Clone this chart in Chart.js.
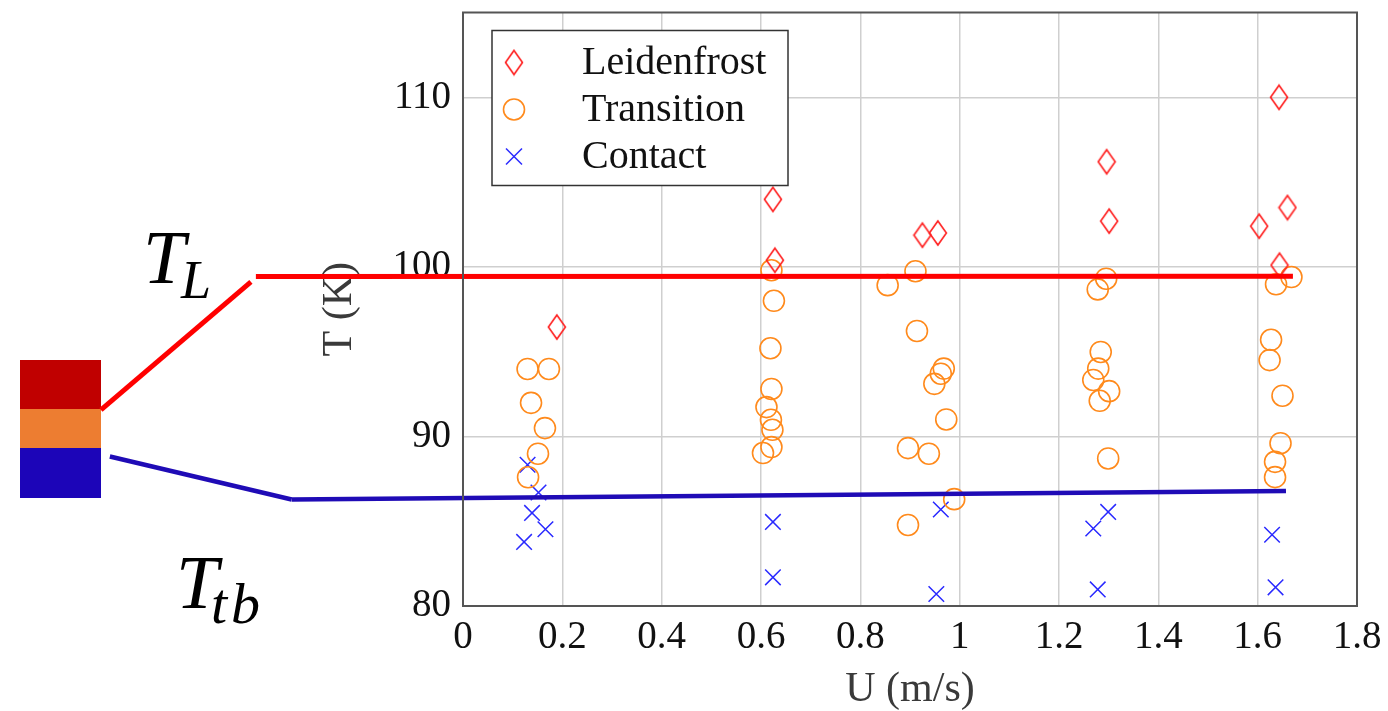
<!DOCTYPE html>
<html>
<head>
<meta charset="utf-8">
<title>Leidenfrost / Transition / Contact</title>
<script src="https://cdn.jsdelivr.net/npm/chart.js@4.4.1/dist/chart.umd.min.js"></script>
<style>
  html, body { margin: 0; padding: 0; background: #fff; }
  #wrap { position: relative; width: 1388px; height: 711px; overflow: hidden; }
  #regimeChart { position: absolute; left: 0; top: 0; }
  .swatch { position: absolute; left: 20px; width: 81px; }
</style>
</head>
<body>
<div id="wrap">
  <div class="swatch" style="top:360px; height:49px; background:#c00000;"></div>
  <div class="swatch" style="top:409px; height:39px; background:#ed7d31;"></div>
  <div class="swatch" style="top:448px; height:50px; background:#1c05b8;"></div>
  <canvas id="regimeChart" width="1388" height="711"></canvas>
</div>
<script>
// --- DATA ---
const seriesNames = ['Leidenfrost', 'Transition', 'Contact'];

const leidenU = [0.189, 0.624, 0.628, 0.925, 0.956, 1.296, 1.301, 1.603, 1.643, 1.660, 1.644];
const leidenT = [96.45, 103.98, 100.39, 101.87, 102.0, 106.2, 102.7, 102.4, 110.0, 103.5, 100.1];

const transU = [0.130, 0.173, 0.137, 0.165, 0.151, 0.131,
                0.621, 0.626, 0.619, 0.621, 0.611, 0.620, 0.623, 0.621, 0.604,
                0.911, 0.855, 0.914, 0.968, 0.962, 0.949, 0.973, 0.896, 0.938, 0.989, 0.896,
                1.295, 1.278, 1.284, 1.279, 1.269, 1.301, 1.282, 1.299,
                1.668, 1.637, 1.627, 1.624, 1.650, 1.646, 1.635, 1.635];
const transT = [93.98, 93.98, 91.98, 90.49, 88.98, 87.59,
                99.80, 98.0, 95.2, 92.8, 91.73, 90.98, 90.39, 89.37, 89.02,
                99.74, 98.92, 96.22, 94.0, 93.7, 93.1, 91.0, 89.31, 88.98, 86.3, 84.78,
                99.3, 98.67, 94.98, 94.0, 93.33, 92.67, 92.1, 88.7,
                99.4, 98.97, 95.7, 94.5, 92.4, 89.6, 88.5, 87.6];

const contactU = [0.130, 0.152, 0.139, 0.166, 0.123, 0.624, 0.624, 0.962, 0.953,
                  1.299, 1.269, 1.278, 1.629, 1.636];
const contactT = [88.33, 86.69, 85.49, 84.53, 83.78, 84.96, 81.69, 85.69, 80.71,
                  85.55, 84.57, 80.98, 84.2, 81.1];

// annotation lines T_L and T_tb (data units, left parts run past the y axis)
const tlDiagU = [-0.427, -0.729];
const tlDiagT = [99.12, 91.57];
const tlFlatU = [-0.417, 1.671];
const tlFlatT = [99.43, 99.45];
const tbDiagU = [-0.345, -0.711];
const tbDiagT = [86.28, 88.82];
const tbFlatU = [-0.345, 1.657];
const tbFlatT = [86.28, 86.78];

// axes
const uTicks = [0, 0.2, 0.4, 0.6, 0.8, 1, 1.2, 1.4, 1.6, 1.8];
const uTickLabels = ['0', '0.2', '0.4', '0.6', '0.8', '1', '1.2', '1.4', '1.6', '1.8'];
const tTicks = [80, 90, 100, 110];
const tTickLabels = ['80', '90', '100', '110'];

const SERIF = '"Liberation Serif", "DejaVu Serif", serif';
const RED = '#ff1f1f', ORANGE = '#ff8a1c', BLUE = '#2a2aff';

function toPoints(us, ts) {
    return us.map((u, i) => ({ x: u, y: ts[i] }));
}

// tall pgfplots-like diamond as an image point style
function makeDiamond() {
    const c = document.createElement('canvas');
    c.width = 20; c.height = 28;
    const g = c.getContext('2d');
    g.strokeStyle = RED;
    g.lineWidth = 1.6;
    g.beginPath();
    g.moveTo(10, 2); g.lineTo(18.5, 14); g.lineTo(10, 26); g.lineTo(1.5, 14);
    g.closePath();
    g.stroke();
    return c;
}
const diamondImg = makeDiamond();

function annotationLine(us, ts, color, width) {
    return {
        type: 'line', data: toPoints(us, ts), borderColor: color, borderWidth: width,
        pointRadius: 0, showLine: true, fill: false, clip: false, order: 0, borderCapStyle: 'butt'
    };
}

// --- PLUGINS: frame, legend box, T_L / T_tb labels ---
const framePlugin = {
    id: 'frame',
    afterDatasetsDraw(chart) {
        const { ctx, chartArea: a } = chart;
        ctx.save();
        ctx.strokeStyle = '#555';
        ctx.lineWidth = 2;
        ctx.strokeRect(a.left, a.top, a.right - a.left, a.bottom - a.top);
        ctx.restore();
    }
};

const legendBoxPlugin = {
    id: 'legendBox',
    afterDraw(chart) {
        const { ctx, chartArea: a } = chart;
        const bx = a.left + 29, by = a.top + 18, bw = 296, bh = 155;
        ctx.save();
        ctx.fillStyle = '#fff';
        ctx.fillRect(bx, by, bw, bh);
        ctx.strokeStyle = '#333';
        ctx.lineWidth = 1.5;
        ctx.strokeRect(bx, by, bw, bh);

        const mx = a.left + 51, tx = a.left + 119;
        const rows = [a.top + 50, a.top + 97, a.top + 144];

        ctx.drawImage(diamondImg, mx - diamondImg.width / 2, rows[0] - diamondImg.height / 2);

        ctx.strokeStyle = ORANGE; ctx.lineWidth = 1.6;
        ctx.beginPath(); ctx.arc(mx, rows[1], 10.5, 0, Math.PI * 2); ctx.stroke();

        ctx.strokeStyle = BLUE; ctx.lineWidth = 1.5;
        ctx.beginPath();
        ctx.moveTo(mx - 8, rows[2] - 8); ctx.lineTo(mx + 8, rows[2] + 8);
        ctx.moveTo(mx + 8, rows[2] - 8); ctx.lineTo(mx - 8, rows[2] + 8);
        ctx.stroke();

        ctx.fillStyle = '#111';
        ctx.font = '40px ' + SERIF;
        ctx.textBaseline = 'alphabetic';
        seriesNames.forEach((name, i) => ctx.fillText(name, tx, rows[i] + 11));

        // T_L and T_tb labels
        ctx.fillStyle = '#000';
        ctx.font = 'italic 76px ' + SERIF;
        ctx.fillText('T', 143, 283);
        ctx.fillText('T', 176, 608);
        ctx.font = 'italic 54px ' + SERIF;
        ctx.fillText('L', 181, 298);
        ctx.font = 'italic 58px ' + SERIF;
        ctx.fillText('t', 211, 623);
        ctx.fillText('b', 231, 623);
        ctx.restore();
    }
};

// --- CHART ---
const ctx = document.getElementById('regimeChart').getContext('2d');
const regimeChart = new Chart(ctx, {
    type: 'scatter',
    data: {
        datasets: [
            annotationLine(tlDiagU, tlDiagT, '#ff0000', 5),
            annotationLine(tlFlatU, tlFlatT, '#ff0000', 5),
            annotationLine(tbDiagU, tbDiagT, '#1f0bb6', 4.5),
            annotationLine(tbFlatU, tbFlatT, '#1f0bb6', 4.5),
            { label: seriesNames[0], data: toPoints(leidenU, leidenT), pointStyle: diamondImg,
              backgroundColor: 'rgba(0,0,0,0)', borderColor: RED, order: 1 },
            { label: seriesNames[1], data: toPoints(transU, transT), pointStyle: 'circle', pointRadius: 10.5,
              borderWidth: 1.6, backgroundColor: 'rgba(0,0,0,0)', borderColor: ORANGE, order: 1 },
            { label: seriesNames[2], data: toPoints(contactU, contactT), pointStyle: 'crossRot', pointRadius: 11,
              borderWidth: 1.5, backgroundColor: 'rgba(0,0,0,0)', borderColor: BLUE, order: 1 }
        ]
    },
    options: {
        responsive: false,
        animation: false,
        events: [],
        layout: { padding: { left: 312, top: 10, right: 31, bottom: 0 } },
        plugins: { legend: { display: false }, tooltip: { enabled: false } },
        scales: {
            x: {
                type: 'linear', min: 0, max: 1.8,
                afterBuildTicks: s => { s.ticks = uTicks.map(v => ({ value: v })); },
                afterFit: s => { s.height = 105; s.paddingLeft = 0; s.paddingRight = 0; },
                grid: { color: '#cfcfcf', lineWidth: 1.5, drawTicks: false },
                border: { color: '#555', width: 2 },
                ticks: {
                    padding: 8, color: '#111', font: { family: SERIF, size: 39 },
                    maxRotation: 0, autoSkip: false,
                    callback: (v, i) => uTickLabels[i]
                },
                title: { display: true, text: 'U (m/s)', color: '#3a3a3a',
                         font: { family: SERIF, size: 42 }, padding: { top: 0, bottom: -4 } }
            },
            y: {
                type: 'linear', min: 80, max: 115,
                afterBuildTicks: s => { s.ticks = tTicks.map(v => ({ value: v })); },
                afterFit: s => { s.width = 151; s.paddingTop = 0; s.paddingBottom = 0; },
                grid: { color: '#cfcfcf', lineWidth: 1.5, drawTicks: false },
                border: { color: '#555', width: 2 },
                ticks: {
                    padding: 12, color: '#111', font: { family: SERIF, size: 39 },
                    autoSkip: false,
                    callback: (v, i) => tTickLabels[i]
                },
                title: { display: true, text: 'T (K)', color: '#3a3a3a',
                         font: { family: SERIF, size: 42 }, padding: { top: 3, bottom: 0 } }
            }
        }
    },
    plugins: [framePlugin, legendBoxPlugin]
});
</script>
</body>
</html>
